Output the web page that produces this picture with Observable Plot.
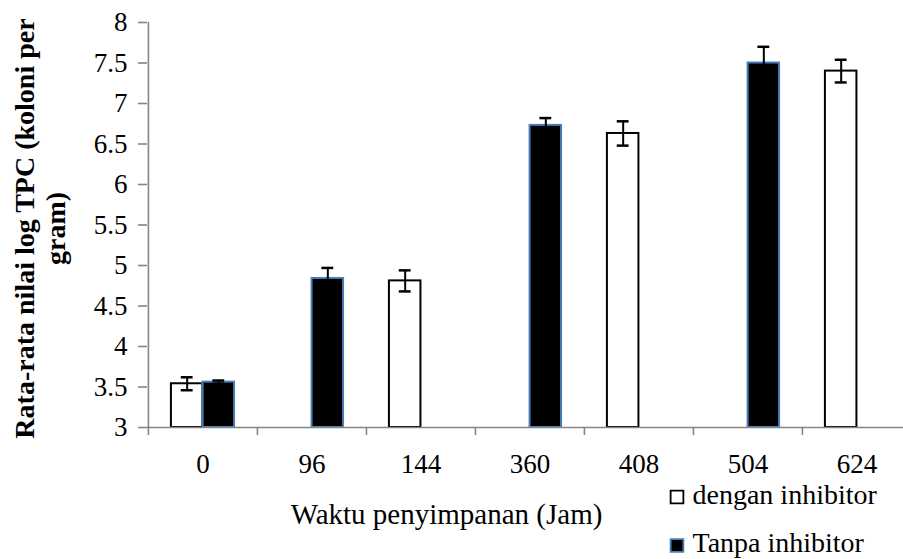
<!DOCTYPE html>
<html><head><meta charset="utf-8">
<script src="https://cdn.jsdelivr.net/npm/d3@7"></script>
<script src="https://cdn.jsdelivr.net/npm/@observablehq/plot@0.6"></script>
<style>
html,body{margin:0;padding:0;background:#fff}
#chart svg, #chart svg text { font-family: "Liberation Serif", "Times New Roman", serif !important; }
</style>
</head><body><div id="chart"></div>
<script>
// ---- data ----
const times = ["0", "96", "144", "360", "408", "504", "624"];
const denganMean = [3.54, null, 4.81, null, 6.63, null, 7.40];
const denganErr  = [0.08, null, 0.13, null, 0.15, null, 0.14];
const tanpaMean  = [3.56, 4.84, null, 6.73, null, 7.50, null];
const tanpaErr   = [0.02, 0.13, null, 0.09, null, 0.20, null];
const seriesNames = ["dengan inhibitor", "Tanpa inhibitor"];
const yTicks = [3, 3.5, 4, 4.5, 5, 5.5, 6, 6.5, 7, 7.5, 8];
const xTitle = "Waktu penyimpanan (Jam)";
const yTitleLines = ["Rata-rata nilai log TPC (koloni per", "gram)"];

// ---- layout ----
const W = 903, H = 559, mL = 147, mT = 22, mB = 132;
const xEnd = 911;
const bw = (xEnd - mL) / times.length;
const axisGray = "#868686";
const blueEdge = "#4a7ebb";

const rows = (means, errs) => times.map((t, i) => ({t, v: means[i], e: errs[i]})).filter(d => d.v != null);
const dRows = rows(denganMean, denganErr);
const tRows = rows(tanpaMean, tanpaErr);

const capHalf = 6;
function errMarks(data, centerFrac) {
  const dx = (centerFrac - 0.5) * bw;
  const il = centerFrac * bw - capHalf, ir = bw - centerFrac * bw - capHalf;
  return [
    Plot.ruleX(data, {x: "t", y1: d => d.v - d.e, y2: d => d.v + d.e, dx, stroke: "#000", strokeWidth: 2}),
    Plot.tickY(data, {x: "t", y: d => d.v + d.e, insetLeft: il, insetRight: ir, stroke: "#000", strokeWidth: 2.5}),
    Plot.tickY(data, {x: "t", y: d => d.v - d.e, insetLeft: il, insetRight: ir, stroke: "#000", strokeWidth: 2.5})
  ];
}

const legendMarks = seriesNames.flatMap((s, k) => [
  Plot.dot([s], {frameAnchor: "bottom-right", dx: -226.5, dy: 69.5 + k * 48.5, symbol: "square", r: 7.2,
    fill: k ? "#000" : "#fff", stroke: k ? blueEdge : "#000", strokeWidth: 1.8}),
  Plot.text([s], {text: d => d, frameAnchor: "bottom-right", dx: -211, dy: 76 + k * 48.5,
    textAnchor: "start", lineAnchor: "bottom", fontSize: 28})
]);

const yTitleMarks = yTitleLines.map((line, k) =>
  Plot.text([line], {text: d => d, frameAnchor: "left", dx: 25 + k * 31 - mL, dy: 3.5, rotate: -90,
    fontWeight: "bold", fontSize: 28, textAnchor: "middle", lineAnchor: "middle"}));

const chart = Plot.plot({
  width: W, height: H,
  marginLeft: mL, marginRight: 0, marginTop: mT, marginBottom: mB,
  style: {fontFamily: "Liberation Serif", fontSize: "27px"},
  x: {type: "band", domain: times, range: [mL, xEnd], padding: 0},
  y: {domain: [3, 8]},
  marks: [
    Plot.barY(dRows, {x: "t", y1: 3, y2: "v", insetLeft: 0.21 * bw, insetRight: 0.5 * bw,
      fill: "#fff", stroke: "#000", strokeWidth: 2}),
    Plot.barY(tRows, {x: "t", y1: 3, y2: "v", insetLeft: 0.5 * bw, insetRight: 0.21 * bw,
      fill: "#000", stroke: blueEdge, strokeWidth: 2}),
    ...errMarks(dRows, 0.355),
    ...errMarks(tRows, 0.645),
    Plot.ruleY([3], {stroke: axisGray, strokeWidth: 1.6}),
    Plot.ruleX([times[0]], {x: d => d, y1: 3, y2: 8, dx: -bw / 2, stroke: axisGray, strokeWidth: 1.6}),
    Plot.axisY(yTicks, {tickSize: 9, tickPadding: 11, stroke: axisGray, strokeWidth: 1.6,
      fontSize: 27, tickFormat: d => String(d), label: null}),
    Plot.axisX({tickSize: 8, dx: -bw / 2, tickFormat: () => "", stroke: axisGray, strokeWidth: 1.6, label: null}),
    Plot.axisX({tickSize: 0, tickPadding: 26, fontSize: 27, label: null}),
    Plot.text([xTitle], {text: d => d, frameAnchor: "bottom", dx: 446 - 525, dy: 96,
      lineAnchor: "bottom", fontSize: 29}),
    ...yTitleMarks,
    ...legendMarks
  ]
});
document.getElementById("chart").appendChild(chart);
</script>
</body></html>
